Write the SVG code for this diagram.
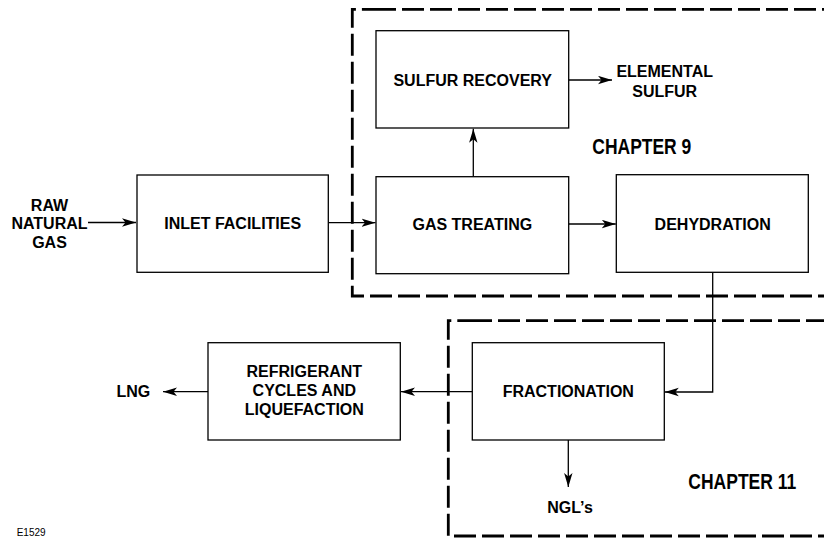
<svg xmlns="http://www.w3.org/2000/svg" width="824" height="538" viewBox="0 0 824 538">
<defs>
<style>
.box{fill:#fff;stroke:#000;stroke-width:1.3}
.t{font-family:"Liberation Sans",Arial,sans-serif;font-weight:bold;font-size:16px;fill:#000;text-anchor:middle}
.ch{font-family:"Liberation Sans",Arial,sans-serif;font-weight:bold;font-size:22px;fill:#000}
.c{fill:none;stroke:#000;stroke-width:1.3}
.dash{fill:none;stroke:#000;stroke-width:2.8;stroke-dasharray:22 6}
</style>
<marker id="ah" markerUnits="userSpaceOnUse" markerWidth="15" markerHeight="10" refX="14" refY="4.5" orient="auto" viewBox="0 0 15 10">
<path d="M0,0.3 L14,4.5 L0,8.7 L3.5,4.5 Z" fill="#000"/>
</marker>
</defs>
<rect width="824" height="538" fill="#fff"/>
<g id="chapter9">
<path class="dash" d="M374,9.3 H840 M840,296 H352.3 V9.3 H374"/>
<text class="ch" x="592.3" y="153.5" textLength="99" lengthAdjust="spacingAndGlyphs">CHAPTER 9</text>
</g>
<g id="chapter11">
<path class="dash" d="M470,320.7 H840 M840,536 H448.3 V320.7 H470"/>
<text class="ch" x="688.3" y="488.5" textLength="108" lengthAdjust="spacingAndGlyphs">CHAPTER 11</text>
</g>
<g id="connectors">
<line class="c" x1="88" y1="222.5" x2="136" y2="222.5" marker-end="url(#ah)"/>
<line class="c" x1="328.5" y1="222.7" x2="375.5" y2="222.7" marker-end="url(#ah)"/>
<line class="c" x1="568.7" y1="224" x2="615.8" y2="224" marker-end="url(#ah)"/>
<line class="c" x1="473.3" y1="176.7" x2="473.3" y2="128.7" marker-end="url(#ah)"/>
<line class="c" x1="568.7" y1="80" x2="612" y2="80" marker-end="url(#ah)"/>
<polyline class="c" points="712.7,272.3 712.7,392 664.8,392" marker-end="url(#ah)"/>
<line class="c" x1="472.3" y1="391.7" x2="401" y2="391.7" marker-end="url(#ah)"/>
<line class="c" x1="208" y1="391.7" x2="163" y2="391.7" marker-end="url(#ah)"/>
<line class="c" x1="568.3" y1="440" x2="568.3" y2="487" marker-end="url(#ah)"/>
</g>
<g id="raw-natural-gas">
<text class="t" x="49.5" y="210.7">RAW</text>
<text class="t" x="49.5" y="228.9">NATURAL</text>
<text class="t" x="49.5" y="247.7">GAS</text>
</g>
<g id="inlet-facilities">
<rect class="box" x="137" y="175" width="191.3" height="97.3"/>
<text class="t" x="232.7" y="228.5">INLET FACILITIES</text>
</g>
<g id="gas-treating">
<rect class="box" x="376" y="176.7" width="192.7" height="97"/>
<text class="t" x="472.3" y="229.8">GAS TREATING</text>
</g>
<g id="dehydration">
<rect class="box" x="616.3" y="174.7" width="192" height="97.6"/>
<text class="t" x="712.7" y="229.8">DEHYDRATION</text>
</g>
<g id="sulfur-recovery">
<rect class="box" x="376" y="30.7" width="192.7" height="97.3"/>
<text class="t" x="472.7" y="85.8">SULFUR RECOVERY</text>
</g>
<g id="elemental-sulfur">
<text class="t" x="664.7" y="76.8">ELEMENTAL</text>
<text class="t" x="664.7" y="97">SULFUR</text>
</g>
<g id="fractionation">
<rect class="box" x="472.3" y="342.7" width="192" height="97.3"/>
<text class="t" x="568.3" y="396.8">FRACTIONATION</text>
</g>
<g id="refrigerant">
<rect class="box" x="208" y="342.7" width="192.3" height="97.3"/>
<text class="t" x="304.3" y="376.5">REFRIGERANT</text>
<text class="t" x="304.3" y="396">CYCLES AND</text>
<text class="t" x="304.3" y="415">LIQUEFACTION</text>
</g>
<g id="lng">
<text class="t" x="133.3" y="397.4">LNG</text>
</g>
<g id="ngls">
<text class="t" x="570" y="513">NGL’s</text>
</g>
<text x="16.7" y="536" font-family="Liberation Sans, Arial, sans-serif" font-size="10" fill="#000">E1529</text>
</svg>
